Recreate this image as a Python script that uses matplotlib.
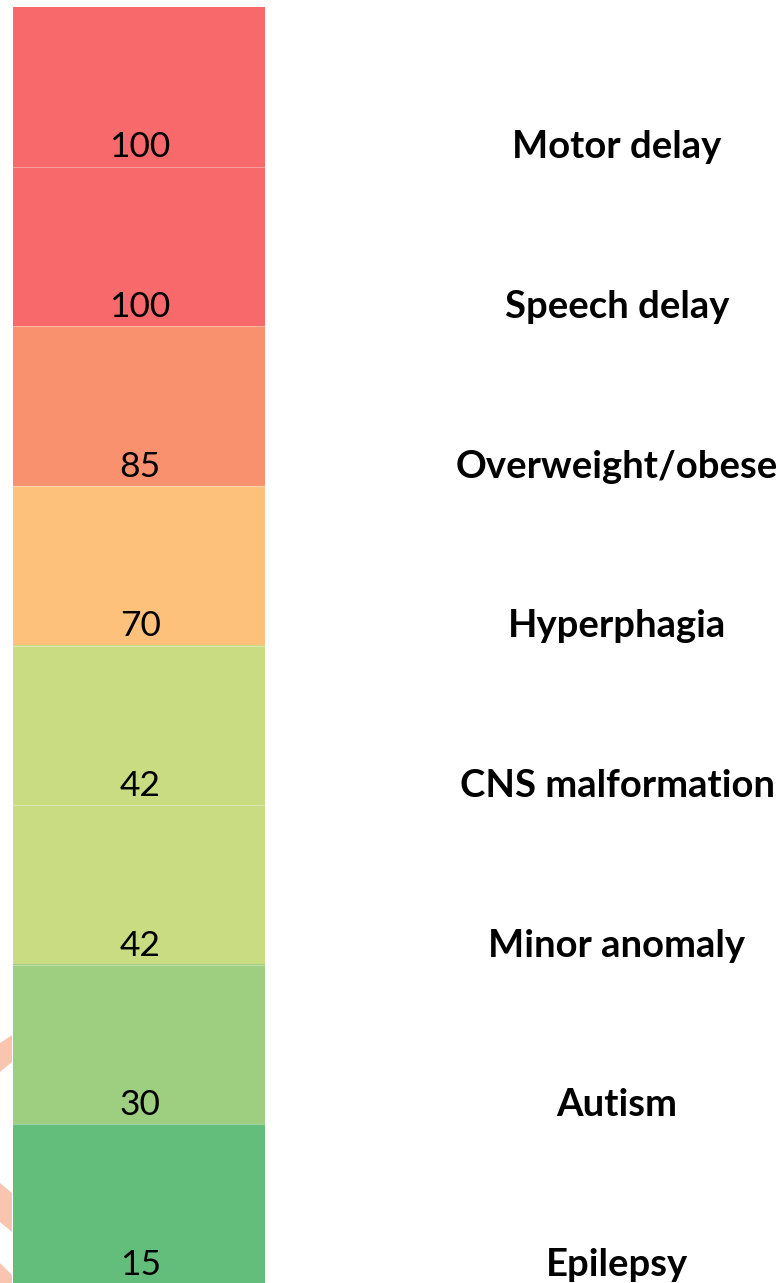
import numpy as np
import matplotlib.pyplot as plt
from matplotlib.colors import LinearSegmentedColormap
from matplotlib.patches import Polygon
import matplotlib.transforms as mtransforms

plt.rcParams['font.family'] = ['Lato', 'DejaVu Sans']

features = ["Motor delay", "Speech delay", "Overweight/obese", "Hyperphagia",
            "CNS malformation", "Minor anomaly", "Autism", "Epilepsy"]
percent = [100, 100, 85, 70, 42, 42, 30, 15]

# colour scale anchors (value, colour)
scale_values = [15, 30, 42, 70, 85, 100]
scale_colors = ["#63be7b", "#9ece80", "#c9dc82", "#fdc17c", "#f9916f", "#f8696b"]

vmin, vmax = min(scale_values), max(scale_values)
cmap = LinearSegmentedColormap.from_list(
    "pct", [((v - vmin) / (vmax - vmin), c) for v, c in zip(scale_values, scale_colors)])

W, H = 780, 1283
fig = plt.figure(figsize=(W / 100, H / 100), dpi=100)
ax = fig.add_axes([13 / W, 1 - 1284 / H, 252 / W, 1277 / H])

data = np.array(percent, dtype=float).reshape(-1, 1)
ax.imshow(data, cmap=cmap, vmin=vmin, vmax=vmax, aspect='auto', interpolation='nearest')
ax.set_xlim(-0.5, 0.5)
ax.set_ylim(len(percent) - 0.5, -0.5)
ax.set_axis_off()

# faint separators between cells
for i in range(1, len(percent)):
    ax.axhline(i - 0.5, color='white', lw=0.8, alpha=0.35)

label_tf = mtransforms.blended_transform_factory(fig.transFigure, ax.transData)
for i, (name, val) in enumerate(zip(features, percent)):
    ax.text(0.005, i + 0.38, str(val), ha='center', va='center', fontsize=25.5, color='black')
    ax.text(617 / W, i + 0.38, name, transform=label_tf, ha='center', va='center',
            fontsize=27.5, fontweight='bold', color='black', clip_on=False)

# salmon fragments on the left margin
for pts in [[(0, 1043), (12, 1035), (12, 1062), (0, 1072)],
            [(0, 1183), (12, 1193), (12, 1232), (0, 1222)],
            [(0, 1263), (12, 1275), (12, 1283), (0, 1283)]]:
    fig.patches.append(Polygon([(x / W, 1 - y / H) for x, y in pts], closed=True,
                               transform=fig.transFigure, facecolor='#f9c5b0',
                               edgecolor='none'))

fig.savefig("out.png", dpi=100)
